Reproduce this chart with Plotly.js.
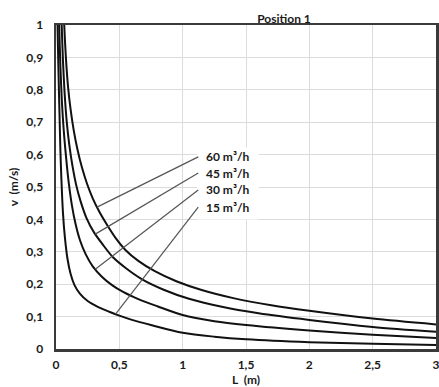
<!DOCTYPE html>
<html>
<head>
<meta charset="utf-8">
<script src="https://cdn.plot.ly/plotly-3.0.1.min.js"></script>
<style>html,body{margin:0;padding:0;background:#fff;}#chart{width:439px;height:387px;}</style>
</head>
<body>
<div id="chart"></div>
<script>
// Data (L in m, v in m/s)
const L15 = [0.009,0.012,0.02,0.028,0.035,0.043,0.055,0.07,0.09,0.115,0.145,0.19,0.25,0.33,0.42,0.5,0.6,0.75,1.0,1.25,1.5,2.0,2.5,3.0];
const v15 = [1.1,1.0,0.85,0.72,0.61,0.52,0.42,0.345,0.28,0.232,0.198,0.170,0.148,0.130,0.115,0.103,0.090,0.074,0.050,0.038,0.030,0.021,0.016,0.012];

const L30 = [0.02,0.025,0.035,0.047,0.062,0.08,0.1,0.125,0.155,0.19,0.235,0.29,0.36,0.44,0.53,0.65,0.8,1.0,1.25,1.5,2.0,2.5,3.0];
const v30 = [1.1,1.0,0.87,0.76,0.67,0.59,0.515,0.445,0.385,0.335,0.292,0.255,0.224,0.198,0.176,0.154,0.132,0.105,0.086,0.074,0.057,0.044,0.034];

const L45 = [0.04,0.045,0.055,0.068,0.085,0.105,0.13,0.16,0.195,0.24,0.3,0.37,0.45,0.55,0.68,0.85,1.05,1.3,1.6,2.0,2.5,3.0];
const v45 = [1.08,1.0,0.89,0.79,0.70,0.63,0.565,0.505,0.455,0.405,0.36,0.322,0.283,0.25,0.215,0.183,0.155,0.131,0.11,0.0895,0.068,0.053];

const L60 = [0.058,0.065,0.078,0.095,0.115,0.14,0.17,0.205,0.245,0.29,0.34,0.4,0.47,0.55,0.65,0.78,0.95,1.15,1.4,1.7,2.0,2.5,3.0];
const v60 = [1.1,1.0,0.9,0.81,0.74,0.675,0.615,0.56,0.51,0.465,0.425,0.385,0.343,0.305,0.272,0.24,0.209,0.182,0.157,0.135,0.118,0.094,0.076];

const seriesLabels = ['60 m³/h','45 m³/h','30 m³/h','15 m³/h'];
const leaderEndL = [0.324, 0.31, 0.31, 0.47];   // where each leader touches its curve
const labelV = [0.593, 0.543, 0.491, 0.438];     // label rows
const labelL = 1.123;

const xTicks = [0,0.5,1,1.5,2,2.5,3];
const yTicks = [0,0.1,0.2,0.3,0.4,0.5,0.6,0.7,0.8,0.9,1];

const curves = [[L60,v60],[L45,v45],[L30,v30],[L15,v15]];

function interp(xs, ys, x){
  for(let i=0;i<xs.length-1;i++){
    if(x>=xs[i] && x<=xs[i+1]){
      const t=(x-xs[i])/(xs[i+1]-xs[i]);
      return ys[i]+t*(ys[i+1]-ys[i]);
    }
  }
  return ys[ys.length-1];
}

const traces = curves.map((c,i)=>({
  x:c[0], y:c[1], type:'scatter', mode:'lines',
  line:{color:'#111111', width:2, shape:'spline', smoothing:0.8},
  name:seriesLabels[i], showlegend:false, hoverinfo:'skip'
}));

const font = {family:'Lato, "Open Sans", "Liberation Sans", sans-serif', size:12, color:'#1a1a1a', weight:'bold'};

const shapes = [{
  type:'rect', xref:'x', yref:'y', x0:1.113, x1:1.6, y0:0.40, y1:0.623,
  fillcolor:'#ffffff', line:{width:0}, layer:'between'
}];
const annotations = [];
curves.forEach((c,i)=>{
  shapes.push({
    type:'line', xref:'x', yref:'y',
    x0:labelL, y0:labelV[i], x1:leaderEndL[i], y1:interp(c[0],c[1],leaderEndL[i]),
    line:{color:'#555555', width:1.2}, layer:'above'
  });
  annotations.push({
    xref:'x', yref:'y', x:labelL, y:labelV[i], xanchor:'left', yanchor:'middle',
    xshift:6, text:seriesLabels[i], showarrow:false, font:font
  });
});

const layout = {
  width:439, height:387,
  margin:{l:56, r:3, t:25, b:38, pad:0},
  paper_bgcolor:'#ffffff', plot_bgcolor:'#ffffff',
  separators:', ',
  font:font,
  title:{text:'Position 1', font:font, x:0.6, xref:'paper', xanchor:'center', y:1, yref:'paper', yanchor:'bottom', pad:{b:2}},
  xaxis:{
    range:[0,3], tickvals:xTicks, ticks:'', showgrid:true, gridcolor:'#dcdcdc', gridwidth:1,
    zeroline:false, showline:true, linecolor:'#3a3a3a', linewidth:2.5, mirror:true,
    tickfont:font, ticklabelstandoff:3, ticklabeloverflow:'allow',
    title:{text:'L  (m)', font:font, standoff:4}
  },
  yaxis:{
    range:[0,1], tickvals:yTicks, ticks:'', showgrid:true, gridcolor:'#dcdcdc', gridwidth:1,
    zeroline:false, showline:true, linecolor:'#3a3a3a', linewidth:2.5, mirror:true,
    tickfont:font, ticklabelstandoff:8,
    title:{text:'v  (m/s)', font:font, standoff:5}
  },
  shapes:shapes, annotations:annotations, showlegend:false
};

Plotly.newPlot('chart', traces, layout, {displayModeBar:false, staticPlot:true});
</script>
</body>
</html>
